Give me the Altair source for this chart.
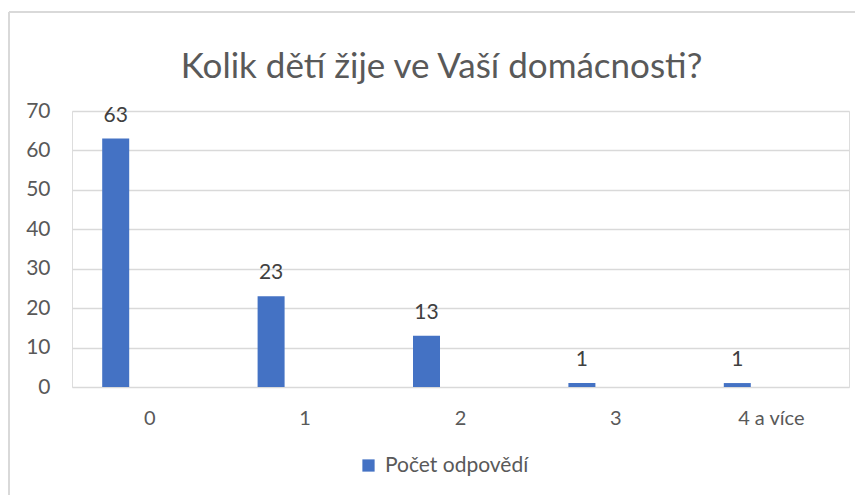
import altair as alt
import pandas as pd

categories = ["0", "1", "2", "3", "4 a více"]
values = [63, 23, 13, 1, 1]
series_name = "Počet odpovědí"
title_text = "Kolik dětí žije ve Vaší domácnosti?"

df = pd.DataFrame({"kategorie": categories, "pocet": values, "serie": [series_name] * len(categories)})

FONT = "Lato"
W, H = 777, 276
BAR_OFF = -34

x_enc = alt.X("kategorie:N", sort=categories, title=None,
              scale=alt.Scale(paddingInner=0, paddingOuter=0),
              axis=alt.Axis(labelAngle=0, ticks=False, domain=False, labelPadding=21,
                            labelFontSize=20, labelColor="#595959", labelFont=FONT, grid=False))
y_enc = alt.Y("pocet:Q", title=None,
              scale=alt.Scale(domain=[0, 70], nice=False),
              axis=alt.Axis(values=list(range(0, 71, 10)), ticks=False, domain=False, labelPadding=22,
                            labelOverlap=False,
                            labelFontSize=21, labelColor="#595959", labelFont=FONT,
                            gridColor="#d9d9d9", gridWidth=1.3))

bars = alt.Chart(df).mark_bar(width=27, xOffset=BAR_OFF, color="#4472C4").encode(
    x=x_enc, y=y_enc,
    color=alt.Color("serie:N", scale=alt.Scale(range=["#4472C4"]),
                    legend=alt.Legend(title=None, orient="none", legendX=286, legendY=344,
                                      symbolType="square", symbolSize=150, symbolStrokeWidth=0,
                                      labelFontSize=21, labelColor="#595959", labelFont=FONT,
                                      labelOffset=6))
)

labels = alt.Chart(df).mark_text(xOffset=BAR_OFF, dy=-17, baseline="alphabetic", fontSize=21,
                                 color="#404040", font=FONT).encode(
    x=x_enc, y=y_enc, text="pocet:Q"
)

title_df = pd.DataFrame({"t": [title_text]})
title_mark = alt.Chart(title_df).mark_text(font=FONT, fontSize=35, color="#595959",
                                           align="center", baseline="alphabetic").encode(
    x=alt.value(W / 2 - 19), y=alt.value(-33), text="t:N"
)

border_left = alt.Chart(df).mark_rule(color="#d9d9d9", strokeWidth=2).encode(
    x=alt.value(-63), y=alt.value(-99), y2=alt.value(H + 120)
)
border_top = alt.Chart(df).mark_rule(color="#d9d9d9", strokeWidth=2).encode(
    x=alt.value(-63), x2=alt.value(W + 20), y=alt.value(-99)
)

chart = alt.layer(border_left, border_top, bars, labels, title_mark).properties(
    width=W, height=H,
    autosize=alt.AutoSizeParams(type="none"),
    padding={"left": 64, "top": 103, "right": 6, "bottom": 108},
).configure_view(stroke=None).configure(background="white")

chart.save("out.html", embed_options={"renderer": "svg", "actions": False})
